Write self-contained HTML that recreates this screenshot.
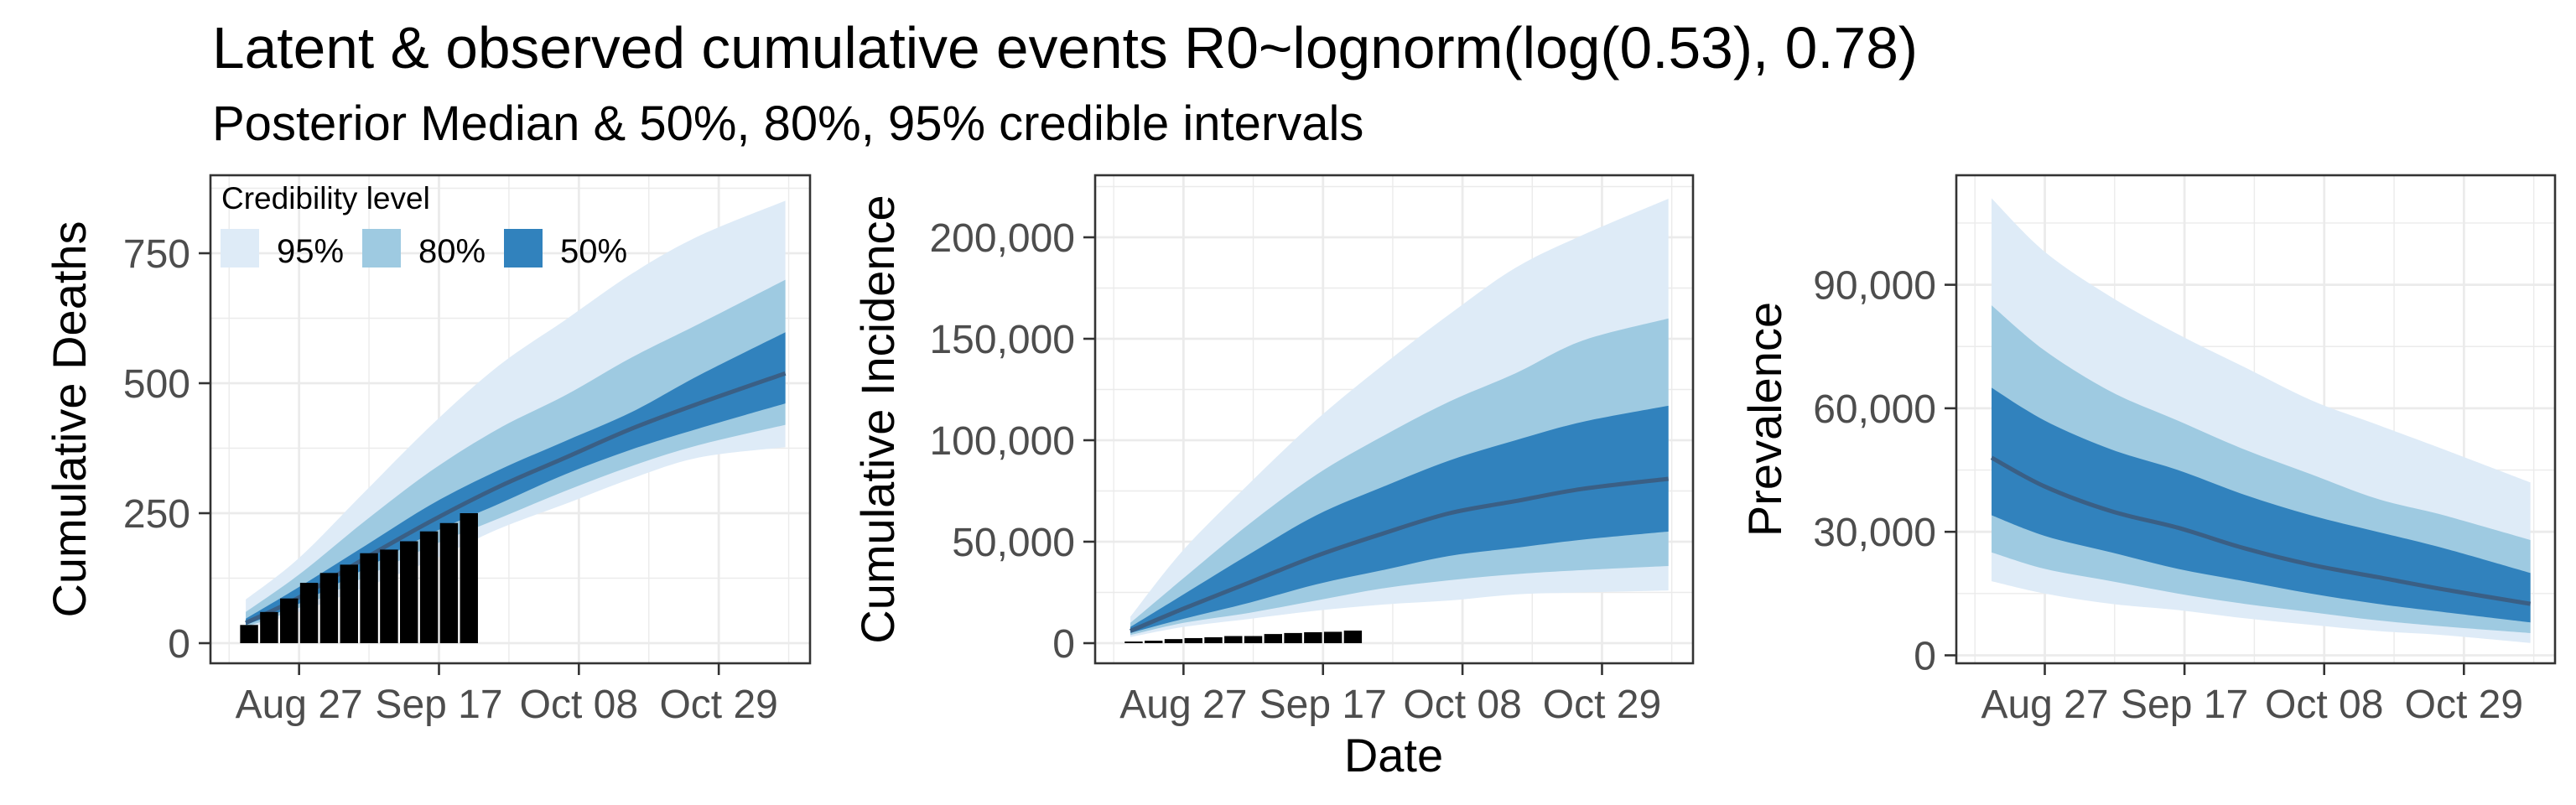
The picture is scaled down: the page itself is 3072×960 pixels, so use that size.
<!DOCTYPE html>
<html><head><meta charset="utf-8"><style>
html,body{margin:0;padding:0;background:#fff;}
svg{display:block;font-family:"Liberation Sans",Arial,sans-serif;}
</style></head><body>
<svg id="chart" width="3072" height="960" viewBox="0 0 3072 960" xmlns="http://www.w3.org/2000/svg">
<text x="253" y="81" font-size="69.5" fill="#000">Latent &amp; observed cumulative events R0~lognorm(log(0.53), 0.78)</text>
<text x="253" y="167" font-size="58" fill="#000">Posterior Median &amp; 50%, 80%, 95% credible intervals</text>
<g id="panels"></g>
</svg>
<script>
// days relative to Aug 27
const days = [-8, 0, 10, 20, 30, 40, 50, 60, 73];
const xTickLabels = ["Aug 27", "Sep 17", "Oct 08", "Oct 29"];
const xTickDays = [0, 21, 42, 63];
const barDays = [-7.5, -4.5, -1.5, 1.5, 4.5, 7.5, 10.5, 13.5, 16.5, 19.5, 22.5, 25.5];

// Panel 1: Cumulative Deaths
const deathsU95 = [84, 164, 293, 421, 534, 622, 711, 783, 851];
const deathsU80 = [60, 132, 236, 333, 413, 477, 550, 614, 699];
const deathsU50 = [47, 108, 188, 268, 333, 389, 445, 515, 598];
const deathsMed = [39, 88, 164, 236, 301, 357, 413, 461, 519];
const deathsL50 = [35, 76, 144, 212, 268, 325, 373, 413, 461];
const deathsL80 = [31, 68, 128, 188, 240, 293, 341, 381, 420];
const deathsL95 = [27, 60, 108, 160, 220, 268, 317, 357, 377];
const deathsObs = [35, 60, 86, 116, 135, 151, 173, 180, 196, 215, 231, 250];
const deathsTicks = [0, 250, 500, 750];

// Panel 2: Cumulative Incidence
const incU95 = [13000, 46000, 79000, 110000, 137000, 162000, 185000, 201000, 219000];
const incU80 = [10000, 32000, 59000, 83000, 102000, 119000, 133000, 149000, 160000];
const incU50 = [8000, 24000, 44000, 63000, 77000, 90000, 100000, 109000, 117000];
const incMed = [6000, 17000, 30000, 43000, 54000, 64000, 70000, 76000, 81000];
const incL50 = [5000, 12000, 20000, 29000, 36000, 43000, 47000, 51000, 55000];
const incL80 = [4000, 10000, 15000, 21000, 27000, 31000, 34000, 36000, 38000];
const incL95 = [3000, 8000, 12000, 16000, 19000, 21000, 24000, 25000, 26000];
const incObs = [800, 1200, 2000, 2500, 2900, 3500, 3500, 4500, 5000, 5400, 5600, 6200];
const incTicks = [0, 50000, 100000, 150000, 200000];

// Panel 3: Prevalence
const prevU95 = [111000, 98000, 87000, 78000, 70000, 62000, 56000, 50000, 42000];
const prevU80 = [85000, 74000, 64000, 57000, 50000, 44000, 38000, 34000, 28000];
const prevU50 = [65000, 57000, 50000, 45000, 39000, 34000, 30000, 26000, 20000];
const prevMed = [48000, 41000, 35000, 31000, 26000, 22000, 19000, 16000, 12500];
const prevL50 = [34000, 29000, 25000, 21000, 18000, 15000, 12500, 10500, 8000];
const prevL80 = [25000, 21000, 18000, 15000, 12500, 10500, 8500, 7000, 5400];
const prevL95 = [18000, 15000, 12500, 11000, 9000, 7400, 5900, 4900, 3000];
const prevTicks = [0, 30000, 60000, 90000];

const NS = "http://www.w3.org/2000/svg";
const root = document.getElementById("panels");
function mk(tag, attrs, parent) {
  const e = document.createElementNS(NS, tag);
  for (const k in attrs) e.setAttribute(k, attrs[k]);
  (parent || root).appendChild(e);
  return e;
}
const fmt = v => v.toLocaleString("en-US");

// Catmull-Rom spline through points -> path segments (without initial M)
function spline(pts) {
  let d = "";
  for (let i = 0; i < pts.length - 1; i++) {
    const p0 = pts[Math.max(0, i - 1)], p1 = pts[i], p2 = pts[i + 1], p3 = pts[Math.min(pts.length - 1, i + 2)];
    const c1x = p1[0] + (p2[0] - p0[0]) / 6, c1y = p1[1] + (p2[1] - p0[1]) / 6;
    const c2x = p2[0] - (p3[0] - p1[0]) / 6, c2y = p2[1] - (p3[1] - p1[1]) / 6;
    d += ` C${c1x},${c1y} ${c2x},${c2y} ${p2[0]},${p2[1]}`;
  }
  return d;
}

function panel(cfg) {
  const g = mk("g", {});
  
  
  const L = cfg.left, R = cfg.right, T = 209, B = 791;
  const xs = d => L + (d - (-13.3)) / 90 * (R - L);
  const ys = v => B - (v - cfg.ymin) / (cfg.ymax - cfg.ymin) * (B - T);
  const minorX = [-10.5, 10.5, 31.5, 52.5, 73.5];
  minorX.forEach(d => { const l = mk("line", {x1: xs(d), x2: xs(d), y1: T, y2: B, stroke: "#ebebeb", "stroke-width": 1.4}, g);   });
  const st = cfg.ticks[1] - cfg.ticks[0];
  for (let v = cfg.ticks[0] - st / 2; v <= cfg.ymax; v += st) {
    if (v < cfg.ymin) continue;
    const l = mk("line", {x1: L, x2: R, y1: ys(v), y2: ys(v), stroke: "#ebebeb", "stroke-width": 1.4}, g);
     
  }
  xTickDays.forEach(d => { const l = mk("line", {x1: xs(d), x2: xs(d), y1: T, y2: B, stroke: "#ebebeb", "stroke-width": 2.8}, g);   });
  cfg.ticks.forEach(v => { const l = mk("line", {x1: L, x2: R, y1: ys(v), y2: ys(v), stroke: "#ebebeb", "stroke-width": 2.8}, g);   });
  const band = (up, lo, col, nm) => {
    const top = up.map((v, i) => [xs(days[i]), ys(v)]);
    const bot = lo.map((v, i) => [xs(days[i]), ys(v)]).reverse();
    const d = `M${top[0][0]},${top[0][1]}` + spline(top) + ` L${bot[0][0]},${bot[0][1]}` + spline(bot) + " Z";
    const e = mk("path", {d: d, fill: col}, g);
     
  };
  band(cfg.u95, cfg.l95, "#deebf7", "ribbon-95");
  band(cfg.u80, cfg.l80, "#9ecae1", "ribbon-80");
  band(cfg.u50, cfg.l50, "#3182bd", "ribbon-50");
  const mp = cfg.med.map((v, i) => [xs(days[i]), ys(v)]);
  const med = mk("path", {d: `M${mp[0][0]},${mp[0][1]}` + spline(mp), fill: "none", stroke: "#3a5f85", "stroke-width": 5, "stroke-linejoin": "round"}, g);
   
  if (cfg.obs) {
    cfg.obs.forEach((v, i) => {
      const x0 = xs(barDays[i] - 1.35), x1 = xs(barDays[i] + 1.35);
      const r = mk("rect", {x: x0, y: ys(v), width: x1 - x0, height: ys(0) - ys(v), fill: "#000"}, g);
       
    });
  }
  const bd = mk("rect", {x: L, y: T, width: R - L, height: B - T, fill: "none", stroke: "#333", "stroke-width": 2.6}, g);
   
  cfg.ticks.forEach(v => {
    const tk = mk("line", {x1: L - 14, x2: L, y1: ys(v), y2: ys(v), stroke: "#333", "stroke-width": 2.6}, g);
     
    const t = mk("text", {x: L - 24, y: ys(v) + 17, "text-anchor": "end", "font-size": 48, fill: "#4d4d4d"}, g);
    t.textContent = fmt(v);
     
  });
  xTickDays.forEach((d, i) => {
    const tk = mk("line", {x1: xs(d), x2: xs(d), y1: B, y2: B + 14, stroke: "#333", "stroke-width": 2.6}, g);
     
    const t = mk("text", {x: xs(d), y: 856, "text-anchor": "middle", "font-size": 48, fill: "#4d4d4d"}, g);
    t.textContent = xTickLabels[i];
     
  });
  const yt = mk("text", {x: 0, y: 0, "text-anchor": "middle", "font-size": 56, fill: "#000", transform: `translate(${cfg.titleX},${(T + B) / 2}) rotate(-90)`}, g);
  yt.textContent = cfg.title;
   
  return {g, xs, ys};
}

const p1 = panel({name: "deaths-panel", left: 251, right: 966, ymin: -38.7, ymax: 900, ticks: deathsTicks,
  u95: deathsU95, u80: deathsU80, u50: deathsU50, med: deathsMed, l50: deathsL50, l80: deathsL80, l95: deathsL95,
  obs: deathsObs, title: "Cumulative Deaths", titleX: 102});
const p2 = panel({name: "incidence-panel", left: 1306, right: 2019, ymin: -9917, ymax: 230579, ticks: incTicks,
  u95: incU95, u80: incU80, u50: incU50, med: incMed, l50: incL50, l80: incL80, l95: incL95,
  obs: incObs, title: "Cumulative Incidence", titleX: 1066});
const p3 = panel({name: "prevalence-panel", left: 2333, right: 3047, ymin: -1935, ymax: 116600, ticks: prevTicks,
  u95: prevU95, u80: prevU80, u50: prevU50, med: prevMed, l50: prevL50, l80: prevL80, l95: prevL95,
  obs: null, title: "Prevalence", titleX: 2124});

const dt = mk("text", {x: 1662, y: 920, "text-anchor": "middle", "font-size": 56, fill: "#000"});
dt.textContent = "Date";



const lg = mk("g", {});


const lt = mk("text", {x: 264, y: 249, "font-size": 37, fill: "#000"}, lg);
lt.textContent = "Credibility level";


const legLabels = ["95%", "80%", "50%"];
const legCols = ["#deebf7", "#9ecae1", "#3182bd"];
const legX = [263, 432, 601];
legLabels.forEach((s, i) => {
  const r = mk("rect", {x: legX[i], y: 273, width: 46, height: 46, fill: legCols[i]}, lg);
  
  
  const t = mk("text", {x: legX[i] + 67, y: 313, "font-size": 40, fill: "#000"}, lg);
  t.textContent = s;
  
  
});
</script>
</body></html>
